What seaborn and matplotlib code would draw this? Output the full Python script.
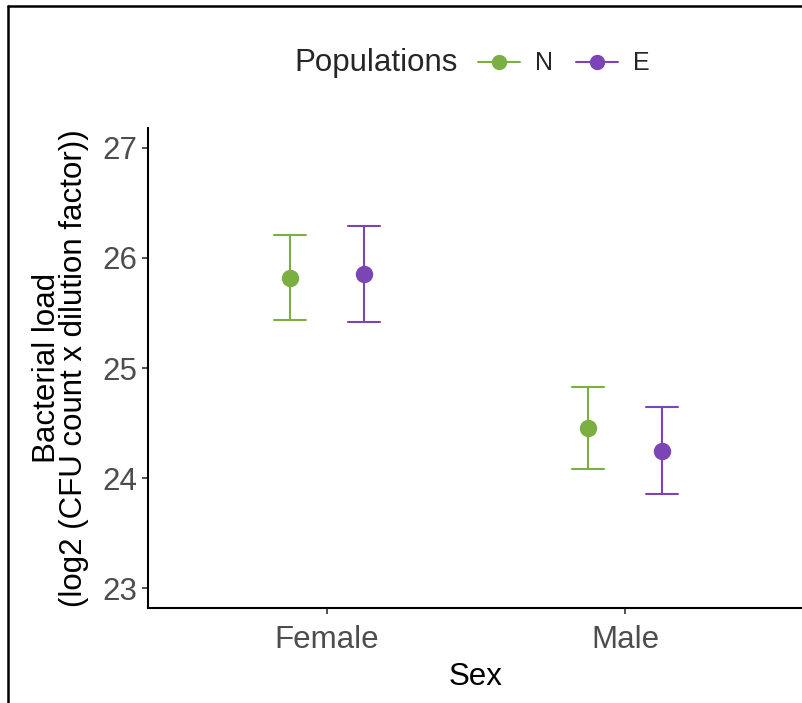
import numpy as np
import pandas as pd
import matplotlib
matplotlib.use("Agg")
import matplotlib.pyplot as plt
from matplotlib.lines import Line2D
import seaborn as sns

sex = ["Female", "Female", "Male", "Male"]
population = ["N", "E", "N", "E"]
mean = [25.82, 25.855, 24.455, 24.245]
lower = [25.44, 25.42, 24.08, 23.86]
upper = [26.21, 26.29, 24.83, 24.645]
pop_order = ["N", "E"]
colors = {"N": "#7CAF42", "E": "#7B45B6"}
yticks = [23, 24, 25, 26, 27]

rows = []
for s, p, lo, m, hi in zip(sex, population, lower, mean, upper):
    for v in (lo, m, hi):
        rows.append({"Sex": s, "Populations": p, "value": v})
df = pd.DataFrame(rows)

sns.set_style("white")
plt.rcParams["font.family"] = ["Liberation Sans", "DejaVu Sans"]
FS = 22.5

fig = plt.figure(figsize=(8.02, 7.03), dpi=100)
ax = fig.add_axes([0.1845, 0.1351, 0.818, 0.6828])

sns.pointplot(data=df, x="Sex", y="value", hue="Populations", hue_order=pop_order,
              palette=colors, estimator=np.median,
              errorbar=lambda v: (v.min(), v.max()),
              dodge=0.25, linestyle="none", markersize=10.5, capsize=0.108,
              err_kws={"linewidth": 1.5}, ax=ax, legend=False)

ax.set_xlim(-0.6, 1.6)
ax.set_ylim(22.82, 27.18)
ax.set_yticks(yticks)
ax.set_yticklabels([str(t) for t in yticks])
for sp in ["top", "right"]:
    ax.spines[sp].set_visible(False)
for sp in ["left", "bottom"]:
    ax.spines[sp].set_color("black")
    ax.spines[sp].set_linewidth(1.5)
ax.tick_params(axis="both", length=4.5, width=1.2, color="#333333",
               labelcolor="#4D4D4D", labelsize=FS, pad=3, left=True, bottom=True)
ax.tick_params(axis="x", pad=8)
ax.set_xlabel("Sex", fontsize=FS, color="black", labelpad=5)
ax.set_ylabel("Bacterial load\n(log2 (CFU count x dilution factor))", fontsize=FS,
              color="black", labelpad=10, linespacing=0.85)

handles = [Line2D([], [], color=colors[p], marker="o", markersize=10, linewidth=1.5)
           for p in pop_order]
fig.text(0.469, 0.91, "Populations", fontsize=FS, ha="center", va="center")
fig.legend(handles, pop_order, loc="center", bbox_to_anchor=(0.703, 0.91), ncol=2,
           frameon=False, fontsize=FS * 0.8, handlelength=1.7, handletextpad=0.6,
           columnspacing=0.9)

fig.add_artist(Line2D([0.0105, 0.0105], [0, 0.9915], transform=fig.transFigure,
                      color="black", linewidth=1.8))
fig.add_artist(Line2D([0.0105, 1], [0.9915, 0.9915], transform=fig.transFigure,
                      color="black", linewidth=1.8))

fig.savefig("out.png", dpi=100)
